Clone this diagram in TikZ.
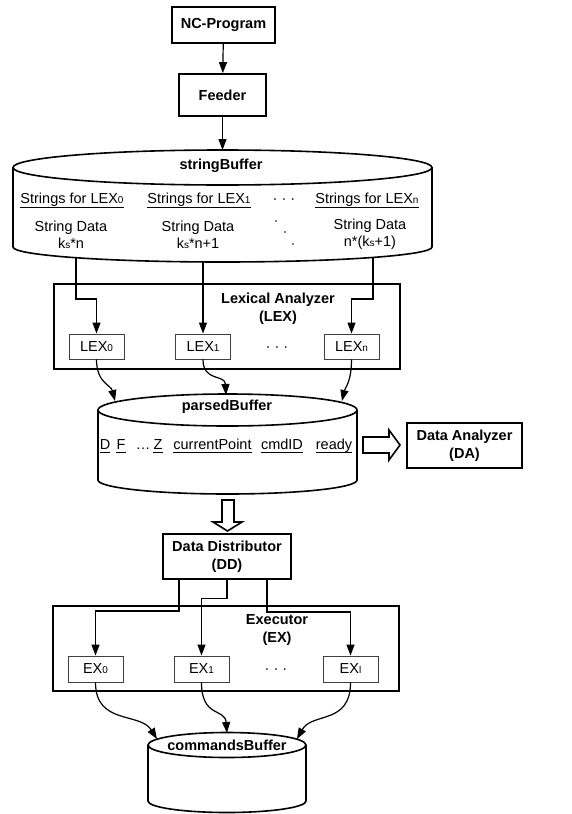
\documentclass[tikz,border=0pt]{standalone}
\usepackage{fontspec}
\setmainfont{Liberation Sans}
\usetikzlibrary{arrows.meta,calc}
\newcommand\sbs[1]{{\fontsize{10}{10}\selectfont #1}}
\begin{document}
\begin{tikzpicture}[x=1pt,y=-1pt,
  font=\fontsize{14.5}{17}\selectfont,
  box/.style={draw,line width=1.8pt,inner sep=0pt,align=center,font=\bfseries\fontsize{14.5}{18}\selectfont},
  frame/.style={draw,line width=2pt,minimum width=346pt,minimum height=85pt,inner sep=0pt},
  sub/.style={draw=black!75,line width=0.9pt,minimum width=55pt,minimum height=25pt,inner sep=0pt},
  ttl/.style={font=\bfseries\fontsize{14.5}{18}\selectfont,align=center,inner sep=0pt},
  ul/.style={inner sep=0pt,text height=10.5pt,text depth=#1,anchor=base},
  uline/.style={line width=0.8pt},
  txt/.style={align=center,inner sep=0pt},
  dotsty/.style={inner sep=0pt,anchor=base},
  arr/.style={-{Triangle[length=11pt,width=8pt]},line width=1.2pt},
  cyl/.style={line width=1.6pt},
  fat/.style={line width=1.6pt,fill=white}]
\useasboundingbox (0,0) rectangle (572,814);

% top boxes
\node[box,minimum width=103pt,minimum height=36pt] (nc) at (223.5,25) {NC-Program};
\node[box,minimum width=87pt,minimum height=42pt] (feed) at (222.5,95) {Feeder};

% stringBuffer cylinder
\draw[cyl] (13,167.5) -- (13,247) arc[start angle=180,end angle=360,x radius=209.5pt,y radius=15pt] -- (432,167.5);
\draw[cyl] (222.5,167.5) ellipse[x radius=209.5pt,y radius=17.5pt];
\coordinate (sbtop) at (222.5,150);
\node[ttl] (sbt) at (221,166) {stringBuffer};
\node[ul=4.5pt] (s0) at (72,203) {Strings for LEX\sbs{0}};
\node[ul=4.5pt] (s1) at (199,203) {Strings for LEX\sbs{1}};
\node[ul=4.5pt] (sn) at (367,203) {Strings for LEX\sbs{n}};
\draw[uline] (s0.south west) -- (s0.south east);
\draw[uline] (s1.south west) -- (s1.south east);
\draw[uline] (sn.south west) -- (sn.south east);
\node[dotsty] (sdots) at (284,203.5) {· · ·};
\node[txt] (d0) at (71,234.5) {String Data\\k\sbs{s}*n};
\node[txt] (d1) at (198,234.5) {String Data\\k\sbs{s}*n+1};
\node[txt] (dn) at (370,234.5) {String Data\\n*(k\sbs{s}+1)};
\fill (276,221) circle[radius=0.9pt];
\fill (285,232) circle[radius=0.9pt];
\fill (293,244) circle[radius=0.9pt];
\coordinate (sb0) at (76,258);
\coordinate (sb1) at (203,262);
\coordinate (sbn) at (373,258);

\draw[arr] (nc) -- (feed);
\draw[arr] (feed) -- (sbtop);

% Lexical analyzer
\node[frame] (lex) at (227,326.5) {};
\node[ttl] (lext) at (278,308.5) {Lexical Analyzer\\(LEX)};
\node[sub] (lex0) at (96.5,346.5) {LEX\sbs{0}};
\node[sub] (lex1) at (203,346.5) {LEX\sbs{1}};
\node[sub] (lexn) at (351.5,346.5) {LEX\sbs{n}};
\node[dotsty] (ldots) at (277,351) {· · ·};
\draw[arr] (sb0) -- (76,299) -| (lex0.north);
\draw[arr] (sb1) -- (lex1.north);
\draw[arr] (sbn) -- (373,299) -| (lexn.north);

% parsedBuffer
\draw[cyl] (98,410) -- (98,480) arc[start angle=180,end angle=360,x radius=129.5pt,y radius=14pt] -- (357,410);
\draw[cyl] (227.5,410) ellipse[x radius=129.5pt,y radius=16pt];
\node[ttl] (pbt) at (227,407) {parsedBuffer};
\coordinate (pb0) at (115,401);
\coordinate (pb1) at (226,395);
\coordinate (pbn) at (342,401);
\draw[arr] (lex0.south) .. controls (96.5,383) and (111,385) .. (pb0);
\draw[arr] (lex1.south) .. controls (203,382) and (225,374) .. (pb1);
\draw[arr] (lexn.south) .. controls (351.5,382) and (345,388) .. (pbn);

\node[ul=3pt] (pD) at (105,449.5) {D};
\node[ul=3pt] (pF) at (121,449.5) {F};
\node[txt,anchor=base] (pdots) at (143,449.5) {…};
\node[ul=3pt] (pZ) at (158,449.5) {Z};
\node[ul=3pt] (pcp) at (212.5,449.5) {currentPoint};
\node[ul=3pt] (pcm) at (282,449.5) {cmdID};
\node[ul=3pt] (prd) at (334,449.5) {ready};
\foreach \n in {pD,pF,pZ,pcp,pcm,prd}
  \draw[uline] (\n.south west) -- (\n.south east);

% Data analyzer
\node[box,minimum width=115pt,minimum height=45pt] (da) at (464.5,445.5) {Data Analyzer\\(DA)};
\draw[fat] (363,437) -- (389,437) -- (389,430) -- (400,445) -- (389,460) -- (389,453) -- (363,453) -- cycle;

% Data distributor
\node[box,minimum width=128pt,minimum height=45pt] (dd) at (227,556.5) {Data Distributor\\(DD)};
\draw[fat] (222,500) -- (234,500) -- (234,522) -- (242,522) -- (227.5,531) -- (213,522) -- (222,522) -- cycle;

% Executor
\node[frame] (ex) at (226,648.5) {};
\node[ttl] (ext) at (277,630) {Executor\\(EX)};
\node[sub,minimum height=26pt] (ex0) at (95.5,669) {EX\sbs{0}};
\node[sub,minimum height=26pt] (ex1) at (201.5,669) {EX\sbs{1}};
\node[sub,minimum height=26pt] (exl) at (350.5,669) {EX\sbs{l}};
\node[dotsty] (edots) at (276,673) {· · ·};
\draw[arr] ([xshift=-48pt]dd.south) -- (179,611) -| (ex0.north);
\draw[arr] (dd.south) -- (227,598.5) -| (ex1.north);
\draw[arr] ([xshift=40pt]dd.south) -- (267,612) -| (exl.north);

% commandsBuffer
\draw[cyl] (148,745) -- (148,801) arc[start angle=180,end angle=360,x radius=79pt,y radius=11.5pt] -- (306,745);
\draw[cyl] (227,745) ellipse[x radius=79pt,y radius=12.5pt];
\node[ttl] (cbt) at (227,745) {commandsBuffer};
\coordinate (cb0) at (157,739);
\coordinate (cb1) at (227,733);
\coordinate (cbl) at (297,739);
\draw[arr] (ex0.south) .. controls (95.5,725) and (140,712) .. (cb0);
\draw[arr] (ex1.south) .. controls (201.5,718) and (225,708) .. (cb1);
\draw[arr] (exl.south) .. controls (350.5,725) and (312,712) .. (cbl);
\end{tikzpicture}
\end{document}
